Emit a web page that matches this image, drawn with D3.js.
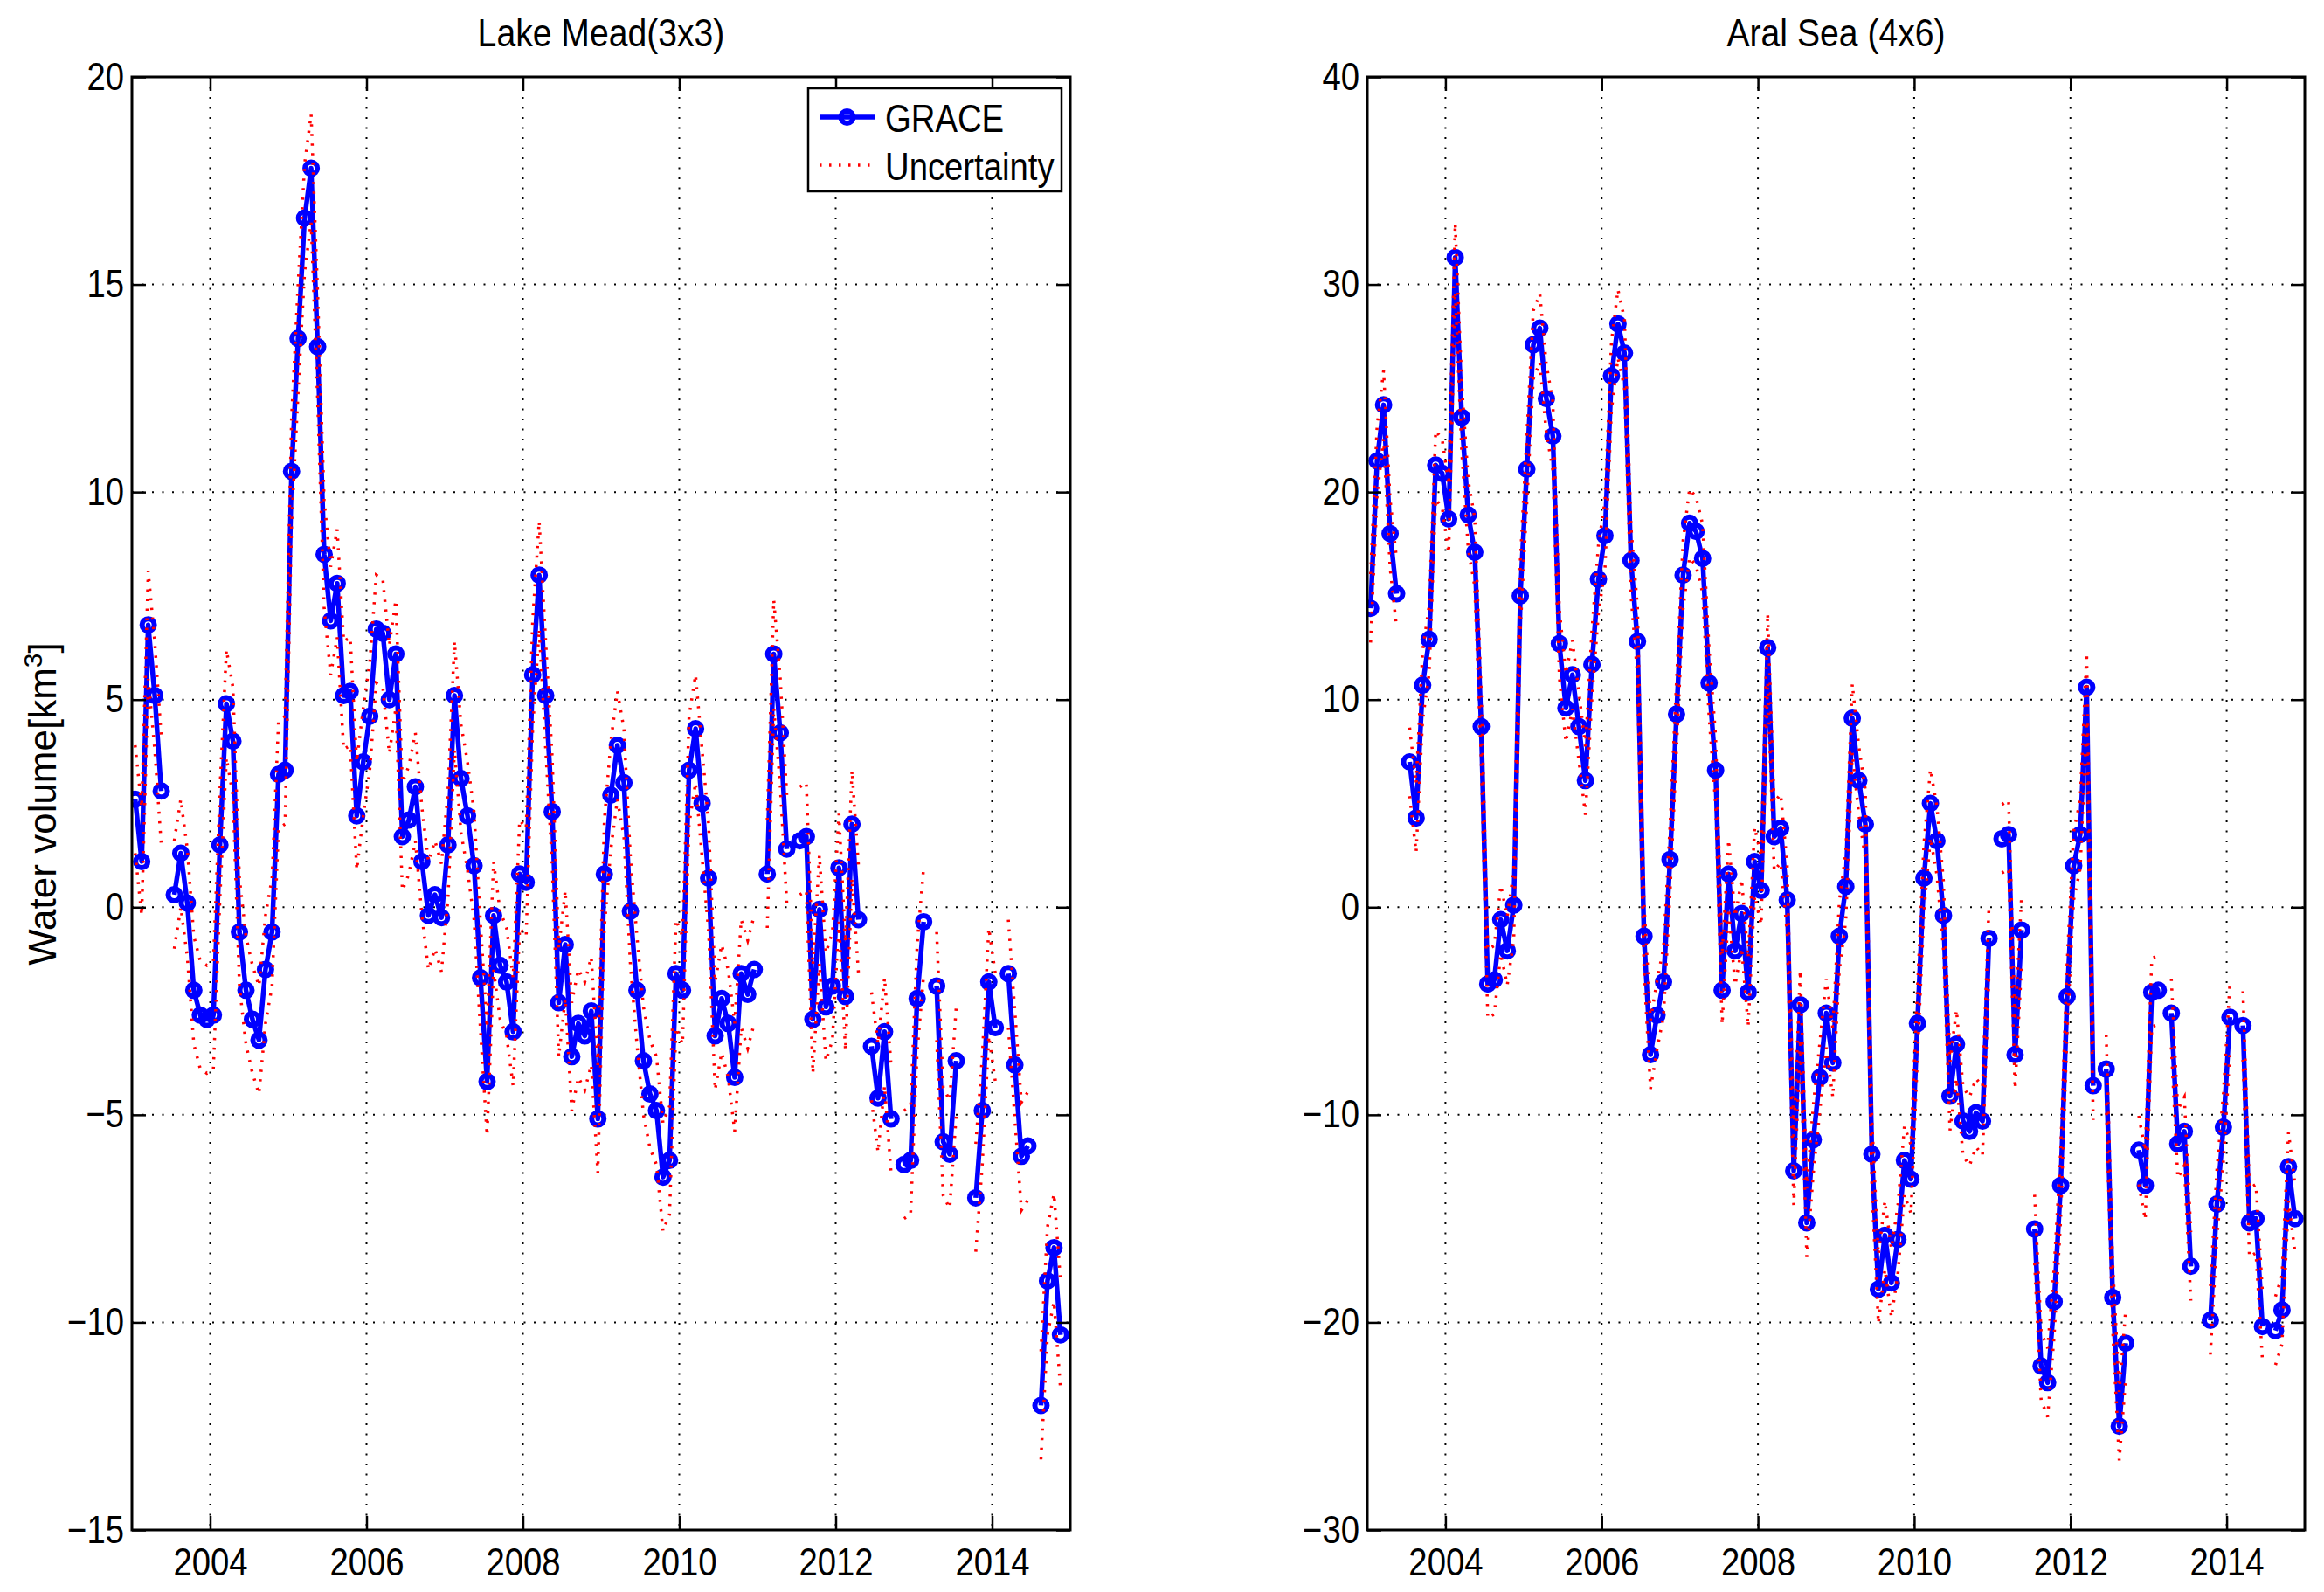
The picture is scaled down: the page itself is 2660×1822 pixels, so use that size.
<!DOCTYPE html>
<html>
<head>
<meta charset="utf-8">
<script src="https://cdn.jsdelivr.net/npm/d3@7"></script>
<style>
  body { margin: 0; background: #fff; }
</style>
</head>
<body>
<div id="chart"></div>
<script>
// GRACE months (gaps: 2003-06, 2011-01, 2011-06, 2012-05, 2012-10, 2013-03, 2013-08/09, 2014-02, 2014-07)
const months = [
  '2003-01', '2003-02', '2003-03', '2003-04', '2003-05', '2003-07', '2003-08', '2003-09', '2003-10', '2003-11', '2003-12',
  '2004-01', '2004-02', '2004-03', '2004-04', '2004-05', '2004-06', '2004-07', '2004-08', '2004-09', '2004-10', '2004-11', '2004-12',
  '2005-01', '2005-02', '2005-03', '2005-04', '2005-05', '2005-06', '2005-07', '2005-08', '2005-09', '2005-10', '2005-11', '2005-12',
  '2006-01', '2006-02', '2006-03', '2006-04', '2006-05', '2006-06', '2006-07', '2006-08', '2006-09', '2006-10', '2006-11', '2006-12',
  '2007-01', '2007-02', '2007-03', '2007-04', '2007-05', '2007-06', '2007-07', '2007-08', '2007-09', '2007-10', '2007-11', '2007-12',
  '2008-01', '2008-02', '2008-03', '2008-04', '2008-05', '2008-06', '2008-07', '2008-08', '2008-09', '2008-10', '2008-11', '2008-12',
  '2009-01', '2009-02', '2009-03', '2009-04', '2009-05', '2009-06', '2009-07', '2009-08', '2009-09', '2009-10', '2009-11', '2009-12',
  '2010-01', '2010-02', '2010-03', '2010-04', '2010-05', '2010-06', '2010-07', '2010-08', '2010-09', '2010-10', '2010-11', '2010-12',
  '2011-02', '2011-03', '2011-04', '2011-05', '2011-07', '2011-08', '2011-09', '2011-10', '2011-11', '2011-12',
  '2012-01', '2012-02', '2012-03', '2012-04', '2012-06', '2012-07', '2012-08', '2012-09', '2012-11', '2012-12',
  '2013-01', '2013-02', '2013-04', '2013-05', '2013-06', '2013-07', '2013-10', '2013-11', '2013-12',
  '2014-01', '2014-03', '2014-04', '2014-05', '2014-06', '2014-08', '2014-09', '2014-10', '2014-11'
]

// Lake Mead (3x3) water volume, km3
const lakeMead = [
  2.6, 1.1, 6.8, 5.1, 2.8, 0.3, 1.3, 0.1, -2.0, -2.6, -2.7,
  -2.6, 1.5, 4.9, 4.0, -0.6, -2.0, -2.7, -3.2, -1.5, -0.6, 3.2, 3.3,
  10.5, 13.7, 16.6, 17.8, 13.5, 8.5, 6.9, 7.8, 5.1, 5.2, 2.2, 3.5,
  4.6, 6.7, 6.6, 5.0, 6.1, 1.7, 2.1, 2.9, 1.1, -0.2, 0.3, -0.25,
  1.5, 5.1, 3.1, 2.2, 1.0, -1.7, -4.2, -0.2, -1.4, -1.8, -3.0, 0.8,
  0.6, 5.6, 8.0, 5.1, 2.3, -2.3, -0.9, -3.6, -2.8, -3.1, -2.5, -5.1,
  0.8, 2.7, 3.9, 3.0, -0.1, -2.0, -3.7, -4.5, -4.9, -6.5, -6.1, -1.6,
  -2.0, 3.3, 4.3, 2.5, 0.7, -3.1, -2.2, -2.8, -4.1, -1.6, -2.1, -1.5,
  0.8, 6.1, 4.2, 1.4, 1.6, 1.7, -2.7, -0.05, -2.4, -1.9,
  0.95, -2.15, 2.0, -0.3, -3.35, -4.6, -3.0, -5.1, -6.2, -6.1,
  -2.2, -0.35, -1.9, -5.65, -5.95, -3.7, -7.0, -4.9, -1.8,
  -2.9, -1.6, -3.8, -6.0, -5.75, -12.0, -9.0, -8.2, -10.3
]

// Aral Sea (4x6) water volume, km3
const aralSea = [
  14.4, 21.5, 24.2, 18.0, 15.1, 7.0, 4.3, 10.7, 12.9, 21.3, 20.9,
  18.7, 31.3, 23.6, 18.9, 17.1, 8.7, -3.7, -3.5, -0.6, -2.1, 0.1, 15.0,
  21.1, 27.1, 27.9, 24.5, 22.7, 12.7, 9.6, 11.2, 8.7, 6.1, 11.7, 15.8,
  17.9, 25.6, 28.1, 26.7, 16.7, 12.8, -1.4, -7.1, -5.2, -3.6, 2.3, 9.3,
  16.0, 18.5, 18.1, 16.8, 10.8, 6.6, -4.0, 1.6, -2.1, -0.3, -4.1, 2.2,
  0.8, 12.5, 3.4, 3.8, 0.35, -12.7, -4.7, -15.2, -11.2, -8.2, -5.1, -7.5,
  -1.4, 1.0, 9.1, 6.1, 4.0, -11.9, -18.4, -15.8, -18.1, -16.0, -12.2, -13.1,
  -5.6, 1.4, 5.0, 3.2, -0.4, -9.1, -6.6, -10.3, -10.8, -9.9, -10.3, -1.5,
  3.3, 3.5, -7.1, -1.1, -15.5, -22.1, -22.9, -19.0, -13.4, -4.3,
  2.0, 3.5, 10.6, -8.6, -7.8, -18.8, -25.0, -21.0, -11.7, -13.4,
  -4.1, -4.0, -5.1, -11.4, -10.8, -17.3, -19.9, -14.3, -10.6,
  -5.3, -5.7, -15.2, -15.0, -20.2, -20.4, -19.4, -12.5, -15.0
]

// uncertainty half-widths, km3
const lakeMeadSigma = 1.3
const aralSeaSigma = 1.65

const yearTicks = [2004, 2006, 2008, 2010, 2012, 2014]
const meadTicks = [-15, -10, -5, 0, 5, 10, 15, 20]
const aralTicks = [-30, -20, -10, 0, 10, 20, 30, 40]
const legendLabels = ['GRACE', 'Uncertainty']

const width = 2660
const height = 1822
const FONT = "'Liberation Sans', Arial, sans-serif"
const NARROW = 0.87 // matlab's helvetica renders narrower than Liberation Sans
const BLUE = '#0000ff'
const RED = '#ff0000'

const svg = d3.select('#chart').append('svg')
  .attr('width', width)
  .attr('height', height)
  .style('background', '#fff')
const defs = svg.append('defs')

const monthNum = s => {
  const [y, m] = s.split('-').map(Number)
  return y * 12 + m - 1
}
const toYear = s => (monthNum(s) + 0.5) / 12

// squeeze text horizontally around its own x
function squeeze (sel) {
  sel.each(function () {
    const x0 = +(this.getAttribute('x') || 0)
    this.setAttribute('transform', `translate(${x0},0) scale(${NARROW},1) translate(${-x0},0)`)
  })
}

// split a series into runs of consecutive months
function toRuns (values) {
  const runs = []
  let cur = []
  months.forEach((m, i) => {
    if (i > 0 && monthNum(m) - monthNum(months[i - 1]) > 1) {
      runs.push(cur)
      cur = []
    }
    cur.push({ t: toYear(m), v: values[i] })
  })
  runs.push(cur)
  return runs
}

function drawPanel (opt) {
  const { left, right, top, bottom, yDomain, yTicks, values, sigma, title, id } = opt
  const x = d3.scaleLinear().domain([2003, 2015]).range([left, right])
  const y = d3.scaleLinear().domain(yDomain).range([bottom, top])
  const g = svg.append('g').attr('class', id)

  defs.append('clipPath').attr('id', 'clip-' + id)
    .append('rect')
    .attr('x', left).attr('y', top)
    .attr('width', right - left).attr('height', bottom - top)

  // dotted grid
  const grid = g.append('g')
    .attr('stroke', '#000')
    .attr('stroke-width', 2)
    .attr('stroke-dasharray', '2,9.5')
  grid.selectAll('.vgrid').data(yearTicks).join('line').attr('class', 'vgrid')
    .attr('x1', d => x(d)).attr('x2', d => x(d))
    .attr('y1', top).attr('y2', bottom)
  grid.selectAll('.hgrid').data(yTicks).join('line').attr('class', 'hgrid')
    .attr('x1', left).attr('x2', right)
    .attr('y1', d => y(d)).attr('y2', d => y(d))

  const runs = toRuns(values)
  const plot = g.append('g').attr('clip-path', `url(#clip-${id})`)

  // GRACE line + circle markers
  const line = d3.line().x(d => x(d.t)).y(d => y(d.v))
  plot.selectAll('.grace').data(runs).join('path').attr('class', 'grace')
    .attr('d', line)
    .attr('fill', 'none')
    .attr('stroke', BLUE)
    .attr('stroke-width', 5.5)
    .attr('stroke-linejoin', 'round')
  plot.selectAll('.marker').data(runs.flat()).join('circle').attr('class', 'marker')
    .attr('cx', d => x(d.t))
    .attr('cy', d => y(d.v))
    .attr('r', 7)
    .attr('fill', 'none')
    .attr('stroke', BLUE)
    .attr('stroke-width', 6)

  // uncertainty bounds, drawn on top like the original
  const upper = d3.line().x(d => x(d.t)).y(d => y(d.v + sigma))
  const lower = d3.line().x(d => x(d.t)).y(d => y(d.v - sigma))
  ;[upper, lower].forEach((gen, k) => {
    plot.selectAll('.unc' + k).data(runs).join('path').attr('class', 'unc' + k)
      .attr('d', gen)
      .attr('fill', 'none')
      .attr('stroke', RED)
      .attr('stroke-width', 3.5)
      .attr('stroke-dasharray', '2.5,8.5')
  })

  // axes, ticks pointing inward
  const styleAxis = sel => {
    sel.select('.domain').remove()
    sel.selectAll('.tick line').attr('stroke', '#000').attr('stroke-width', 2.5)
    sel.selectAll('.tick text').attr('fill', '#000').call(squeeze)
    sel.attr('font-family', FONT).attr('font-size', 44)
  }
  g.append('g').attr('transform', `translate(${left},0)`)
    .call(d3.axisLeft(y).tickValues(yTicks).tickSize(-16).tickPadding(9).tickFormat(d3.format('d')))
    .call(styleAxis)
  g.append('g').attr('transform', `translate(${right},0)`)
    .call(d3.axisRight(y).tickValues(yTicks).tickSize(-16).tickFormat(''))
    .call(styleAxis)
  g.append('g').attr('transform', `translate(0,${bottom})`)
    .call(d3.axisBottom(x).tickValues(yearTicks).tickSize(-16).tickPadding(21).tickFormat(d3.format('d')))
    .call(styleAxis)
  g.append('g').attr('transform', `translate(0,${top})`)
    .call(d3.axisTop(x).tickValues(yearTicks).tickSize(-16).tickFormat(''))
    .call(styleAxis)

  // box
  g.append('rect')
    .attr('x', left).attr('y', top)
    .attr('width', right - left).attr('height', bottom - top)
    .attr('fill', 'none')
    .attr('stroke', '#000')
    .attr('stroke-width', 3)

  // title
  g.append('text')
    .attr('x', (left + right) / 2)
    .attr('y', 53)
    .attr('text-anchor', 'middle')
    .attr('font-family', FONT)
    .attr('font-size', 45)
    .text(title)
    .call(squeeze)

  return { x, y, g }
}

const mead = drawPanel({
  id: 'mead', left: 151, right: 1225, top: 88, bottom: 1751,
  yDomain: [-15, 20], yTicks: meadTicks, values: lakeMead, sigma: lakeMeadSigma,
  title: 'Lake Mead(3x3)'
})
drawPanel({
  id: 'aral', left: 1565, right: 2638, top: 88, bottom: 1751,
  yDomain: [-30, 40], yTicks: aralTicks, values: aralSea, sigma: aralSeaSigma,
  title: 'Aral Sea (4x6)'
})

// y label
const ylab = svg.append('text')
  .attr('transform', 'translate(64,920) rotate(-90)')
  .attr('text-anchor', 'middle')
  .attr('font-family', FONT)
  .attr('font-size', 44)
ylab.append('tspan').text('Water volume[km')
ylab.append('tspan').attr('baseline-shift', 'super').attr('font-size', 30).text('3')
ylab.append('tspan').text(']')

// legend
const lg = mead.g.append('g')
lg.append('rect')
  .attr('x', 925).attr('y', 101)
  .attr('width', 290).attr('height', 118)
  .attr('fill', '#fff')
  .attr('stroke', '#000')
  .attr('stroke-width', 2.5)
const rows = lg.selectAll('.row').data(legendLabels).join('g').attr('class', 'row')
  .attr('transform', (d, i) => `translate(0,${134 + i * 55})`)
rows.append('line')
  .attr('x1', 938).attr('x2', 1001)
  .attr('stroke', (d, i) => i === 0 ? BLUE : RED)
  .attr('stroke-width', (d, i) => i === 0 ? 5.5 : 3.5)
  .attr('stroke-dasharray', (d, i) => i === 0 ? null : '2.5,8.5')
rows.filter((d, i) => i === 0).append('circle')
  .attr('cx', 969.5).attr('r', 7)
  .attr('fill', 'none').attr('stroke', BLUE).attr('stroke-width', 6)
rows.append('text')
  .attr('x', 1013).attr('y', 17)
  .attr('font-family', FONT)
  .attr('font-size', 44)
  .text(d => d)
  .call(squeeze)
</script>
</body>
</html>
